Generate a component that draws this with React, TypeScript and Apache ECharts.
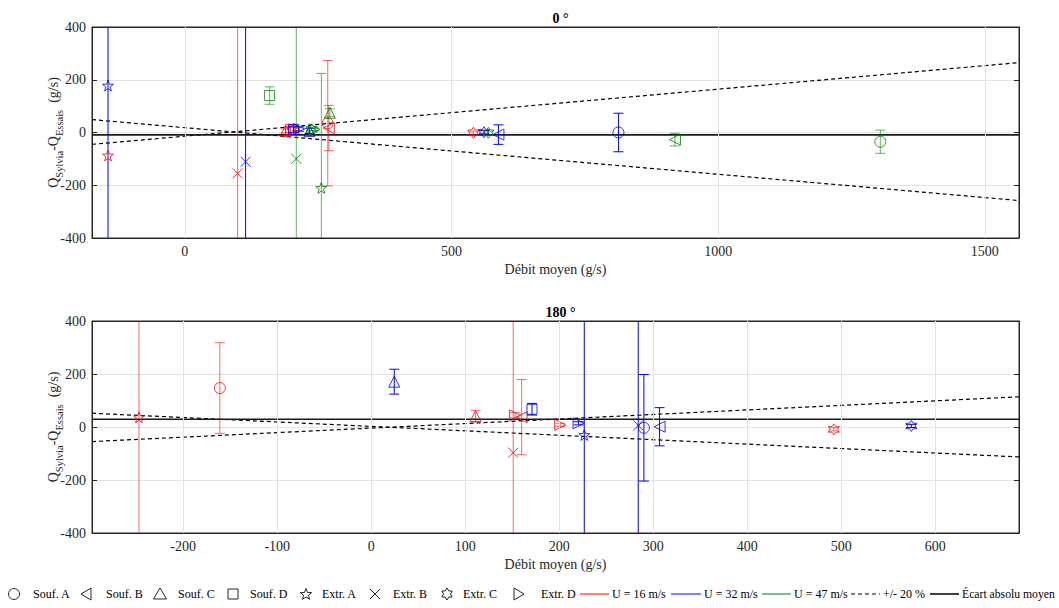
import React, { useEffect, useRef } from "react";
import * as echarts from "echarts";

// ---------- DATA ----------
// Top chart (0 °)
const TOP_SHAPE = ["ExtrA", "ExtrA", "ExtrB", "ExtrB", "SoufD", "ExtrB", "ExtrA", "SoufA", "SoufB", "SoufC", "SoufC", "SoufD", "ExtrD", "SoufD", "ExtrD", "SoufC", "ExtrC", "ExtrD", "ExtrC", "ExtrC", "ExtrC", "SoufB", "SoufA", "SoufB", "SoufA"];
const TOP_SPEED = [16, 32, 16, 32, 47, 47, 47, 16, 16, 47, 16, 16, 16, 32, 32, 32, 47, 47, 16, 32, 47, 32, 32, 47, 47];
const TOP_X = [-144, -144, 99, 114, 159, 209, 256, 268, 270, 272, 189, 198, 205, 204, 214, 234, 238, 243, 541, 561, 569, 588, 813, 919, 1304];
const TOP_Y = [-87, 178, -155, -111, 140, -100, -210, 35, 17, 75, 6, 11, 12, 12, 13, 6, 12, 12, -1, 1, -1, -8, 0, -27, -35];
const TOP_ERR = [0, 2000, 2000, 2000, 33, 2000, 434, 238, 86, 15, 8, 10, 6, 12, 8, 10, 6, 5, 6, 6, 6, 37, 73, 24, 44];
const TOP_MEAN = -9;
const TOP_BAND_X = [-174, 1564];
const TOP_BAND_UP = [49, -258];
const TOP_BAND_DOWN = [-45, 265];
const TOP_XTICKS = [0, 500, 1000, 1500];
const TOP_XMIN = -174;
const TOP_XMAX = 1564;

// Bottom chart (180 °)
const BOT_SHAPE = ["ExtrA", "SoufA", "SoufC", "SoufC", "ExtrB", "ExtrD", "SoufB", "SoufD", "ExtrD", "ExtrD", "ExtrA", "ExtrB", "SoufA", "SoufB", "ExtrC", "ExtrC"];
const BOT_SPEED = [16, 16, 32, 16, 16, 16, 16, 32, 16, 32, 32, 32, 32, 32, 16, 32];
const BOT_X = [-247, -161, 24.5, 111, 151, 153, 160, 171, 201, 220.5, 226.6, 284, 290, 306.7, 492, 574.5];
const BOT_Y = [37, 147, 171, 41, -97, 44, 37, 67, 8, 14, -30, 6, -3, 1, -9, 4];
const BOT_ERR = [2000, 171, 47, 22, 2000, 10, 142, 22, 6, 6, 2000, 2000, 201, 72, 6, 6];
const BOT_MEAN = 29;
const BOT_BAND_X = [-297, 689];
const BOT_BAND_UP = [52, -113];
const BOT_BAND_DOWN = [-55, 114];
const BOT_XTICKS = [-200, -100, 0, 100, 200, 300, 400, 500, 600];
const BOT_XMIN = -297;
const BOT_XMAX = 689;

const Y_MIN = -400;
const Y_MAX = 400;
const Y_STEP = 200;

const LEGEND_SHAPES = ["SoufA", "SoufB", "SoufC", "SoufD", "ExtrA", "ExtrB", "ExtrC", "ExtrD"];
const LEGEND_SHAPE_LABELS = ["Souf. A", "Souf. B", "Souf. C", "Souf. D", "Extr. A", "Extr. B", "Extr. C", "Extr. D"];
const LEGEND_LINE_LABELS = ["U = 16 m/s", "U = 32 m/s", "U = 47 m/s", "+/- 20 %", "Écart absolu moyen"];

// ---------- STYLE ----------
const FONT = "Liberation Serif";
const AXIS_C = "#262626";
const GRID_C = "#e3e3e3";
const SPEED_COLOR: Record<number, string> = { 16: "#ff0000", 32: "#0000ff", 47: "#008000" };
const SPEED_BAR: Record<number, string> = { 16: "rgba(255,0,0,0.6)", 32: "#0000ff", 47: "rgba(0,128,0,0.6)" };

function starPath(n: number, rOut: number, rIn: number, cx: number, cy: number): number[][] {
  const pts: number[][] = [];
  for (let i = 0; i < 2 * n; i++) {
    const a = (-90 + (i * 180) / n) * (Math.PI / 180);
    const r = i % 2 === 0 ? rOut : rIn;
    pts.push([cx + r * Math.cos(a), cy + r * Math.sin(a)]);
  }
  return pts;
}
function ptsToPath(pts: number[][]): string {
  return "path://M" + pts.map((p) => p[0].toFixed(3) + "," + p[1].toFixed(3)).join("L") + "Z";
}

const SYMBOL: Record<string, string> = {
  SoufA: "circle",
  SoufB: "path://M0,5L8.66,0L8.66,10Z",
  SoufC: "path://M5,0L10,8.66L0,8.66Z",
  SoufD: "rect",
  ExtrA: ptsToPath(starPath(5, 10, 4.0, 10, 10)),
  ExtrB: "path://M0,0L10,10M10,0L0,10",
  ExtrC: ptsToPath(starPath(6, 10, 5.77, 10, 10)),
  ExtrD: "path://M8.66,5L0,0L0,10Z",
};
const SYMSIZE: Record<string, number> = {
  SoufA: 11, SoufB: 11, SoufC: 11, SoufD: 10, ExtrA: 11, ExtrB: 10, ExtrC: 11, ExtrD: 11,
};

function buildPanel(
  gi: number,
  shapes: string[], speeds: number[], xs: number[], ys: number[], errs: number[],
  mean: number, bandX: number[], bandUp: number[], bandDown: number[], xticks: number[]
) {
  const xA = gi * 2;
  const yA = gi * 2;
  const series: any[] = [];
  series.push({
    type: "line", xAxisIndex: xA, yAxisIndex: yA, data: [], z: 1, silent: true,
    markLine: {
      silent: true, symbol: ["none", "none"], animation: false,
      label: { show: false },
      lineStyle: { color: GRID_C, width: 1, type: "solid" },
      data: xticks.map((v) => ({ xAxis: v })),
    },
  });
  series.push({
    type: "line", xAxisIndex: xA, yAxisIndex: yA, z: 2, silent: true, symbol: "none",
    lineStyle: { color: "#000", width: 1.2, type: [4, 3] },
    data: bandX.map((x, i) => [x, bandUp[i]]),
  });
  series.push({
    type: "line", xAxisIndex: xA, yAxisIndex: yA, z: 2, silent: true, symbol: "none",
    lineStyle: { color: "#000", width: 1.2, type: [4, 3] },
    data: bandX.map((x, i) => [x, bandDown[i]]),
  });
  series.push({
    type: "line", xAxisIndex: xA, yAxisIndex: yA, z: 2, silent: true, symbol: "none",
    lineStyle: { color: "#1a1a1a", width: 1.6 },
    data: [[bandX[0], mean], [bandX[1], mean]],
  });
  series.push({
    type: "custom", xAxisIndex: xA, yAxisIndex: yA, z: 3, silent: true,
    data: xs.map((x, i) => [x, ys[i], errs[i], speeds[i]]),
    renderItem: (params: any, api: any) => {
      const x = api.value(0), y = api.value(1), e = api.value(2), sp = api.value(3);
      if (!e) return null;
      const cs = params.coordSys;
      const pTop = api.coord([x, y + e]);
      const pBot = api.coord([x, y - e]);
      const top = Math.max(cs.y, pTop[1]);
      const bot = Math.min(cs.y + cs.height, pBot[1]);
      const color = SPEED_BAR[sp];
      const st = { stroke: color, lineWidth: 1, fill: "none" };
      const children: any[] = [
        { type: "line", shape: { x1: pTop[0], y1: top, x2: pTop[0], y2: bot }, style: st },
      ];
      const cw = 5;
      if (pTop[1] >= cs.y) children.push({ type: "line", shape: { x1: pTop[0] - cw, y1: pTop[1], x2: pTop[0] + cw, y2: pTop[1] }, style: st });
      if (pBot[1] <= cs.y + cs.height) children.push({ type: "line", shape: { x1: pBot[0] - cw, y1: pBot[1], x2: pBot[0] + cw, y2: pBot[1] }, style: st });
      return { type: "group", children };
    },
  });
  series.push({
    type: "scatter", xAxisIndex: xA, yAxisIndex: yA, z: 4, silent: true,
    data: xs.map((x, i) => ({
      value: [x, ys[i]],
      symbol: SYMBOL[shapes[i]],
      symbolSize: SYMSIZE[shapes[i]],
      itemStyle: { color: "rgba(0,0,0,0)", borderColor: SPEED_COLOR[speeds[i]], borderWidth: 1 },
    })),
  });
  return series;
}

function makeAxes(gi: number, xmin: number, xmax: number, xticks: number[]) {
  const labelStyle = { fontFamily: FONT, fontSize: 14, color: AXIS_C, formatter: (v: number) => String(v) };
  const xAxes = [
    {
      type: "value", gridIndex: gi, position: "bottom", min: xmin, max: xmax,
      name: "Débit moyen (g/s)", nameLocation: "middle", nameGap: 24,
      nameTextStyle: { fontFamily: FONT, fontSize: 14, color: AXIS_C },
      axisLine: { show: true, onZero: false, lineStyle: { color: AXIS_C } },
      axisTick: { show: true, inside: true, length: 5, customValues: xticks, lineStyle: { color: AXIS_C } },
      axisLabel: { ...labelStyle, margin: 6, customValues: xticks },
      splitLine: { show: false },
    },
    {
      type: "value", gridIndex: gi, position: "top", min: xmin, max: xmax,
      axisLine: { show: true, onZero: false, lineStyle: { color: AXIS_C } },
      axisTick: { show: true, inside: true, length: 5, customValues: xticks, lineStyle: { color: AXIS_C } },
      axisLabel: { show: false },
      splitLine: { show: false },
    },
  ];
  const yAxes = [
    {
      type: "value", gridIndex: gi, position: "left", min: Y_MIN, max: Y_MAX, interval: Y_STEP,
      name: "{a|Q}{b|Sylvia}{a|-Q}{b|Essais}{a|  (g/s)}", nameLocation: "middle", nameGap: 30, nameRotate: 90,
      nameMoveOverlap: false,
      nameTextStyle: {
        rich: {
          a: { fontFamily: FONT, fontSize: 14, color: AXIS_C, lineHeight: 16, verticalAlign: "top" },
          b: { fontFamily: FONT, fontSize: 10.5, color: AXIS_C, lineHeight: 12, verticalAlign: "top", padding: [8, 0, 0, 0] },
        },
      },
      axisLine: { show: true, onZero: false, lineStyle: { color: AXIS_C } },
      axisTick: { show: true, inside: true, length: 5, lineStyle: { color: AXIS_C } },
      axisLabel: { ...labelStyle, margin: 6 },
      splitLine: { show: true, lineStyle: { color: GRID_C, width: 1 } },
    },
    {
      type: "value", gridIndex: gi, position: "right", min: Y_MIN, max: Y_MAX, interval: Y_STEP,
      axisLine: { show: true, onZero: false, lineStyle: { color: AXIS_C } },
      axisTick: { show: true, inside: true, length: 5, lineStyle: { color: AXIS_C } },
      axisLabel: { show: false },
      splitLine: { show: false },
    },
  ];
  return { xAxes, yAxes };
}

function legendGraphics() {
  const els: any[] = [];
  const cy = 594;
  const col = AXIS_C;
  const st = { stroke: col, fill: "none", lineWidth: 1 };
  const markerX = [14, 86, 160, 233, 306, 375, 447, 519];
  const textX = [33, 106, 178, 250, 322, 393, 463, 541];
  const fs = 12;
  LEGEND_SHAPES.forEach((s, i) => {
    const cx = markerX[i];
    if (s === "SoufA") els.push({ type: "circle", shape: { cx, cy, r: 5.5 }, style: st });
    if (s === "SoufB") els.push({ type: "polygon", shape: { points: [[cx - 5, cy], [cx + 5, cy - 6], [cx + 5, cy + 6]] }, style: st });
    if (s === "SoufC") els.push({ type: "polygon", shape: { points: [[cx, cy - 6], [cx + 6.5, cy + 5], [cx - 6.5, cy + 5]] }, style: st });
    if (s === "SoufD") els.push({ type: "rect", shape: { x: cx - 5, y: cy - 5, width: 10, height: 10 }, style: st });
    if (s === "ExtrA") els.push({ type: "polygon", shape: { points: starPath(5, 6, 2.5, cx, cy + 0.5) }, style: st });
    if (s === "ExtrB") {
      els.push({ type: "line", shape: { x1: cx - 5, y1: cy - 5, x2: cx + 5, y2: cy + 5 }, style: st });
      els.push({ type: "line", shape: { x1: cx + 5, y1: cy - 5, x2: cx - 5, y2: cy + 5 }, style: st });
    }
    if (s === "ExtrC") els.push({ type: "polygon", shape: { points: starPath(6, 6, 3.5, cx, cy) }, style: st });
    if (s === "ExtrD") els.push({ type: "polygon", shape: { points: [[cx + 5, cy], [cx - 5, cy - 6], [cx - 5, cy + 6]] }, style: st });
    els.push({
      type: "text", x: textX[i], y: cy,
      style: { text: LEGEND_SHAPE_LABELS[i], fontFamily: FONT, fontSize: fs, fill: "#000", verticalAlign: "middle", align: "left" },
    });
  });
  const lineX0 = [580, 671, 762, 851, 930];
  const lineX1 = [609, 701, 791, 880, 959];
  const lineTextX = [612, 704, 794, 883, 962];
  const lineColors = ["#ff0000", "#0000ff", "#008000", "#000", "#000"];
  LEGEND_LINE_LABELS.forEach((t, i) => {
    els.push({
      type: "line", shape: { x1: lineX0[i], y1: cy, x2: lineX1[i], y2: cy },
      style: { stroke: lineColors[i], lineWidth: i === 4 ? 1.5 : 1, lineDash: i === 3 ? [4, 3] : null },
    });
    els.push({
      type: "text", x: lineTextX[i], y: cy,
      style: { text: t, fontFamily: FONT, fontSize: i === 4 ? 11.7 : fs, fill: "#000", verticalAlign: "middle", align: "left" },
    });
  });
  return els;
}

export default function App() {
  const ref = useRef<HTMLDivElement>(null);
  useEffect(() => {
    if (!ref.current) return;
    const chart = echarts.init(ref.current, undefined, { renderer: "svg" });
    const a0 = makeAxes(0, TOP_XMIN, TOP_XMAX, TOP_XTICKS);
    const a1 = makeAxes(1, BOT_XMIN, BOT_XMAX, BOT_XTICKS);
    const option: any = {
      animation: false,
      backgroundColor: "#fff",
      title: [
        { text: "0 °", left: 555.5, top: 6, textAlign: "center", textStyle: { fontFamily: FONT, fontSize: 14, fontWeight: "bold", color: "#000" } },
        { text: "180 °", left: 555.5, top: 300, textAlign: "center", textStyle: { fontFamily: FONT, fontSize: 14, fontWeight: "bold", color: "#000" } },
      ],
      grid: [
        { left: 92, right: 40, top: 27, height: 211, show: true, borderColor: AXIS_C, borderWidth: 1, backgroundColor: "#fff" },
        { left: 92, right: 40, top: 321, height: 212, show: true, borderColor: AXIS_C, borderWidth: 1, backgroundColor: "#fff" },
      ],
      xAxis: [...a0.xAxes, ...a1.xAxes],
      yAxis: [...a0.yAxes, ...a1.yAxes],
      series: [
        ...buildPanel(0, TOP_SHAPE, TOP_SPEED, TOP_X, TOP_Y, TOP_ERR, TOP_MEAN, TOP_BAND_X, TOP_BAND_UP, TOP_BAND_DOWN, TOP_XTICKS),
        ...buildPanel(1, BOT_SHAPE, BOT_SPEED, BOT_X, BOT_Y, BOT_ERR, BOT_MEAN, BOT_BAND_X, BOT_BAND_UP, BOT_BAND_DOWN, BOT_XTICKS),
      ],
      graphic: legendGraphics(),
    };
    chart.setOption(option);
    return () => chart.dispose();
  }, []);
  return <div ref={ref} style={{ position: "fixed", left: 0, top: 0, width: 1059, height: 608 }} />;
}
